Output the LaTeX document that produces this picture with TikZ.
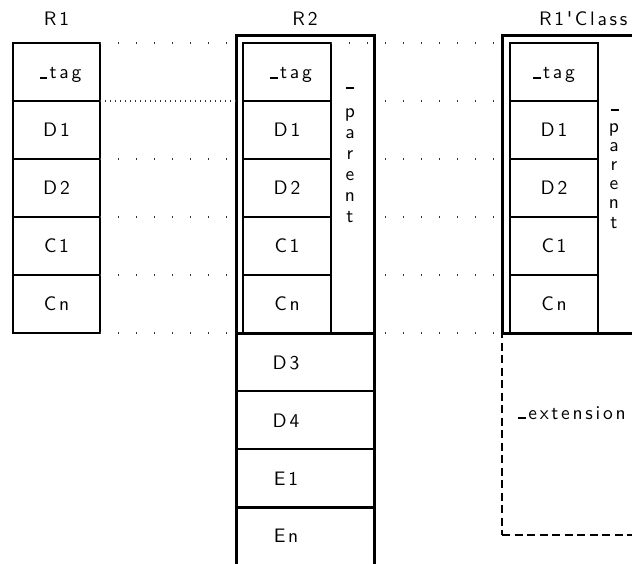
\documentclass[tikz,border=0pt]{standalone}
\usepackage{fontspec}
\newfontfamily\lblfont{lmsans10-regular}[Extension=.otf,LetterSpace=14]
\newcommand\us{\rule{7.5pt}{2pt}\kern2.5pt}
\begin{document}
\begin{tikzpicture}[x=1pt,y=-1pt,
  txt/.style={font=\lblfont\fontsize{19.5}{23}\selectfont, inner sep=0pt, outer sep=0pt},
  lblb/.style={txt, anchor=base},
  cellbox/.style={txt, draw, line width=2.6pt, minimum width=87pt, minimum height=58pt,
                  text height=13.5pt, text depth=0pt},
  outerbox/.style={draw, line width=3pt, minimum width=138pt, minimum height=298pt, inner sep=0pt, outer sep=0pt},
  lowcell/.style={draw, line width=2.3pt, minimum width=138pt, minimum height=58pt, inner sep=0pt, outer sep=0pt},
  thickline/.style={line width=3pt},
  extbox/.style={draw, line width=2pt, dash pattern=on 8pt off 4.5pt, minimum width=138pt, minimum height=202pt, inner sep=0pt, outer sep=0pt},
  dotrow/.style={line width=1.1pt, black!80, dash pattern=on 1pt off 17pt},
  densedot/.style={line width=1.1pt, black!80, dash pattern=on 1pt off 4pt}
]
\useasboundingbox (0,0) rectangle (632,563);
\clip (0,0) rectangle (632,563);

% titles
\node[lblb] (t1) at (56.5,25) {R1};
\node[lblb] (t2) at (305,25) {R2};
\node[lblb, anchor=base west] (t3) at (539,25) {R1'Class};

% outer boxes (no text)
\node[outerbox] (r2) at (305,184) {};
\node[extbox] (rcx) at (571,434) {};
\node[outerbox] (rc) at (571,184) {};

% R2 lower rows
\node[lowcell] (r2d3) at (305,362) {};
\node[lowcell] (r2d4) at (305,420) {};
\node[lowcell] (r2e1) at (305,478) {};
\node[lowcell] (r2en) at (305,536) {};
\draw[thickline] (r2.south west) -- (r2.south west |- r2en.south);
\draw[thickline] (r2.south east) -- (r2.south east |- r2en.south);
\draw[thickline] (r2e1.south west) -- (r2e1.south east);
\draw[thickline] (r2.south west) -- (r2.south east);

% cells
\foreach \k/\t/\s in {1/{\kern8pt\us tag}/{\us tag},2/D1/D1,3/D2/D2,4/C1/C1,5/Cn/Cn}{
  \node[cellbox] (r1c\k) at (56.5,{14+58*\k}) {\t};
  \node[cellbox, minimum width=88pt] (r2c\k) at (287,{14+58*\k}) {\t};
  \node[cellbox, minimum width=88pt] (rcc\k) at (554,{14+58*\k}) {\s};
}
\draw[thickline] (rc.south west) -- (rc.south east);

% lower labels
\node[lblb] (ld3) at (286,369) {D3};
\node[lblb] (ld4) at (286,427) {D4};
\node[lblb] (le1) at (286,485) {E1};
\node[lblb] (len) at (286,542) {En};
\node[lblb] (lext) at (572,419) {\us extension};

% vertical _parent labels
\node[inner sep=0pt, outer sep=0pt] (r2us) at (350,88) {\rule{8pt}{2.2pt}};
\foreach \ch/\yy [count=\n] in {p/117,a/138,r/159,e/180,n/201,t/222}
  \node[lblb] (r2par\n) at (350,\yy) {\ch};
\node[inner sep=0pt, outer sep=0pt] (rcus) at (615,110) {\rule{8pt}{2.6pt}};
\foreach \ch/\yy [count=\n] in {p/132,a/151.2,r/170.4,e/189.6,n/208.8,t/228}
  \node[lblb] (rcpar\n) at (614,\yy) {\ch};

% dotted row connectors
\foreach \k in {1,3,4,5}
  \draw[dotrow] (r1c\k.north east) -- (r2.west |- r1c\k.north east);
\draw[densedot] (r1c2.north east) -- (r2.west |- r1c2.north east);
\draw[dotrow] (r1c5.south east) -- (r2.south west);
\draw[dotrow] (r2c1.north east) -- (rc.west |- r2c1.north east);
\foreach \k in {2,3,4,5}
  \draw[dotrow, dash phase=7pt] (r2.east |- r2c\k.north east) -- (rc.west |- r2c\k.north east);
\draw[dotrow, dash phase=7pt] (r2.south east) -- (rc.south west);
\end{tikzpicture}
\end{document}
